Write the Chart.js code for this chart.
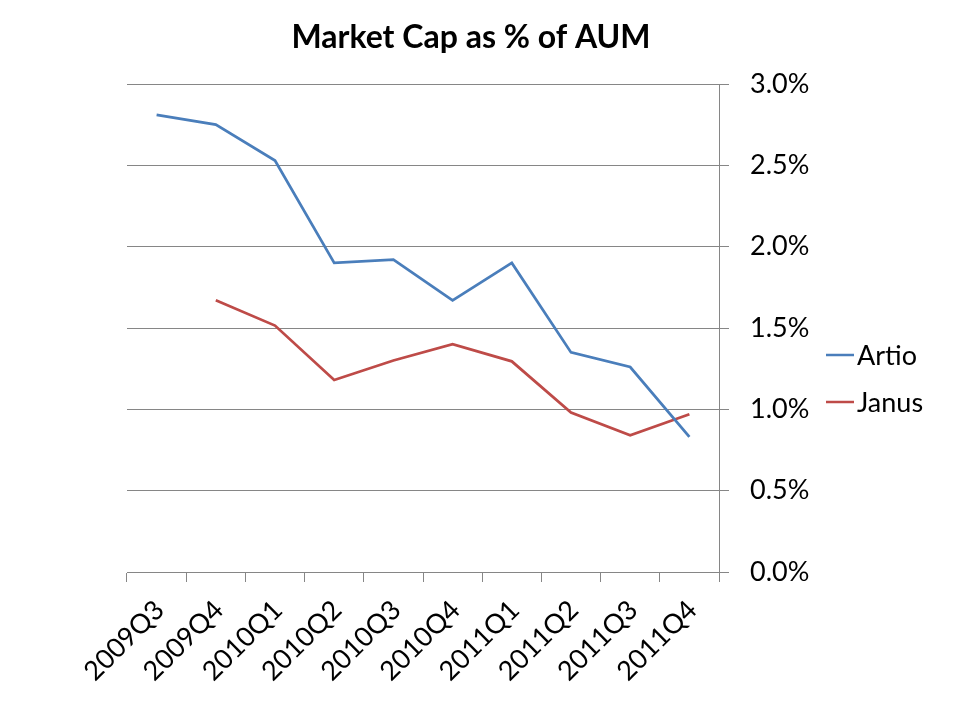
<!DOCTYPE html>
<html>
<head>
<meta charset="utf-8">
<script src="https://cdn.jsdelivr.net/npm/chart.js@4/dist/chart.umd.min.js"></script>
<style>
  html, body { margin: 0; padding: 0; background: #fff; }
  #wrap { width: 960px; height: 720px; }
</style>
</head>
<body>
<div id="wrap"><canvas id="c" width="960" height="720"></canvas></div>
<script>
// quarters on the x axis
const quarters = ['2009Q3', '2009Q4', '2010Q1', '2010Q2', '2010Q3', '2010Q4', '2011Q1', '2011Q2', '2011Q3', '2011Q4'];
// market cap as % of AUM
const artio = [2.81, 2.75, 2.53, 1.90, 1.92, 1.67, 1.90, 1.35, 1.26, 0.83];
const janus = [null, 1.67, 1.515, 1.18, 1.30, 1.40, 1.295, 0.98, 0.84, 0.97];
const yTicks = [0, 0.5, 1.0, 1.5, 2.0, 2.5, 3.0];

const FONT = 'Lato, "Open Sans", sans-serif';
const GRID = '#868686';

// legend drawn beside the plot like the Excel one (short line + name)
const sideLegend = {
    id: 'sideLegend',
    afterDraw(chart) {
        const ctx = chart.ctx;
        ctx.save();
        ctx.font = '27px ' + FONT;
        ctx.textBaseline = 'middle';
        ctx.textAlign = 'left';
        chart.data.datasets.forEach((ds, i) => {
            const y = 355 + i * 47;
            ctx.strokeStyle = ds.borderColor;
            ctx.lineWidth = 2.5;
            ctx.beginPath();
            ctx.moveTo(826, y);
            ctx.lineTo(854, y);
            ctx.stroke();
            ctx.fillStyle = '#000';
            ctx.fillText(ds.label, 857, y + 1);
        });
        ctx.restore();
    }
};

new Chart(document.getElementById('c'), {
    type: 'line',
    data: {
        labels: quarters,
        datasets: [
            { label: 'Artio', data: artio, borderColor: '#4A7EBB', backgroundColor: '#4A7EBB', borderWidth: 2.75, pointRadius: 0, tension: 0 },
            { label: 'Janus', data: janus, borderColor: '#BE4B48', backgroundColor: '#BE4B48', borderWidth: 2.75, pointRadius: 0, tension: 0 }
        ]
    },
    options: {
        responsive: false,
        animation: false,
        layout: { padding: { left: 0, right: 18, top: 0, bottom: 0 } },
        plugins: {
            legend: { display: false },
            tooltip: { enabled: false },
            title: {
                display: true,
                text: 'Market Cap as % of AUM',
                color: '#000',
                font: { family: FONT, size: 32, weight: 'bold' },
                padding: { top: 18, bottom: 27.6 }
            }
        },
        scales: {
            x: {
                offset: true,
                grid: { offset: true, drawOnChartArea: false, drawTicks: true, tickLength: 10, color: GRID },
                border: { color: GRID, width: 1 },
                ticks: {
                    color: '#000',
                    font: { family: FONT, size: 27 },
                    minRotation: 45,
                    maxRotation: 45,
                    autoSkip: false,
                    padding: 12,
                    labelOffset: 3
                },
                afterFit(scale) {
                    scale.paddingLeft = 127;
                    scale.height = 148;
                }
            },
            y: {
                position: 'right',
                min: 0,
                max: 3,
                afterBuildTicks(scale) {
                    scale.ticks = yTicks.map(v => ({ value: v }));
                },
                grid: { color: GRID, tickLength: 10, lineWidth: 1 },
                border: { color: GRID, width: 1 },
                ticks: {
                    color: '#000',
                    font: { family: FONT, size: 27 },
                    padding: 21,
                    callback: v => v.toFixed(1) + '%'
                },
                afterFit(scale) {
                    scale.width = 960 - 18 - 719;
                }
            }
        }
    },
    plugins: [sideLegend]
});
</script>
</body>
</html>
